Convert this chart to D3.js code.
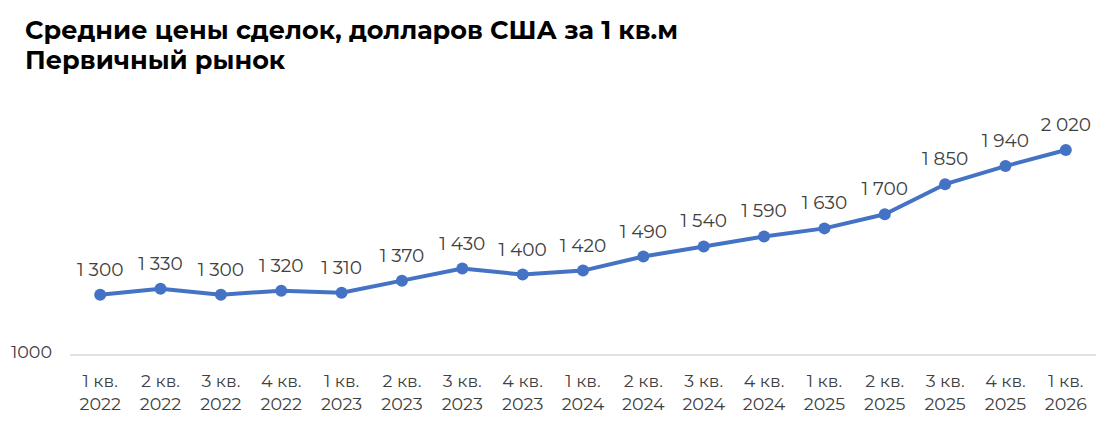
<!DOCTYPE html>
<html><head><meta charset="utf-8">
<script src="https://cdn.jsdelivr.net/npm/d3@7"></script>
<style>
body{margin:0;background:#fff;}
svg{display:block;}
</style></head><body>
<svg id="c" width="1100" height="431"></svg>
<script>
const quarters = ["1 кв.","2 кв.","3 кв.","4 кв.","1 кв.","2 кв.","3 кв.","4 кв.","1 кв.","2 кв.","3 кв.","4 кв.","1 кв.","2 кв.","3 кв.","4 кв.","1 кв."];
const years = ["2022","2022","2022","2022","2023","2023","2023","2023","2024","2024","2024","2024","2025","2025","2025","2025","2026"];
const prices = [1300,1330,1300,1320,1310,1370,1430,1400,1420,1490,1540,1590,1630,1700,1850,1940,2020];
const yTicks = [1000];
const titleLines = ["Средние цены сделок, долларов США за 1 кв.м","Первичный рынок"];

const svg = d3.select("#c");
const font = "Montserrat, 'Open Sans', 'Noto Sans', sans-serif";
const cats = prices.map((d,i)=>i);
const x = d3.scaleBand().domain(cats).range([70,1096]);
const y = d3.scaleLinear().domain([1000,2020]).range([355,150]);

svg.append("g").selectAll("text").data(titleLines).join("text")
  .attr("x",25).attr("y",(d,i)=>39+i*30)
  .attr("font-family",font).attr("font-weight",700).attr("font-size",25.5)
  .attr("fill","#000").text(d=>d);

// gridline / baseline
svg.append("g").selectAll("line").data(yTicks).join("line")
  .attr("x1",70).attr("x2",1096).attr("y1",d=>y(d)).attr("y2",d=>y(d))
  .attr("stroke","#d9d9d9").attr("stroke-width",1.5);
svg.append("g").selectAll("text").data(yTicks).join("text")
  .attr("x",52).attr("y",d=>y(d)+3).attr("text-anchor","end")
  .attr("font-family",font).attr("font-size",17.5).attr("fill","#404040").text(d=>d);

const cx = i => x(i)+x.bandwidth()/2;
const xl = svg.append("g").attr("font-family",font).attr("font-size",17.5).attr("fill","#404040").attr("text-anchor","middle");
xl.selectAll("text.q").data(quarters).join("text").attr("class","q")
  .attr("x",(d,i)=>cx(i)).attr("y",387).text(d=>d);
xl.selectAll("text.yr").data(years).join("text").attr("class","yr")
  .attr("x",(d,i)=>cx(i)).attr("y",410).text(d=>d);

const line = d3.line().x((d,i)=>cx(i)).y(d=>y(d));
svg.append("path").datum(prices).attr("d",line).attr("fill","none")
  .attr("stroke","#4472C4").attr("stroke-width",4).attr("stroke-linejoin","round");
svg.append("g").selectAll("circle").data(prices).join("circle")
  .attr("cx",(d,i)=>cx(i)).attr("cy",d=>y(d)).attr("r",6).attr("fill","#4472C4");

const fmt = v => { const s = String(v); return s.slice(0,s.length-3)+" "+s.slice(-3); };
svg.append("g").attr("font-family",font).attr("font-size",18.5).attr("fill","#404040").attr("text-anchor","middle")
  .selectAll("text").data(prices).join("text")
  .attr("x",(d,i)=>cx(i)).attr("y",d=>y(d)-19).text(d=>fmt(d));
</script></body></html>
